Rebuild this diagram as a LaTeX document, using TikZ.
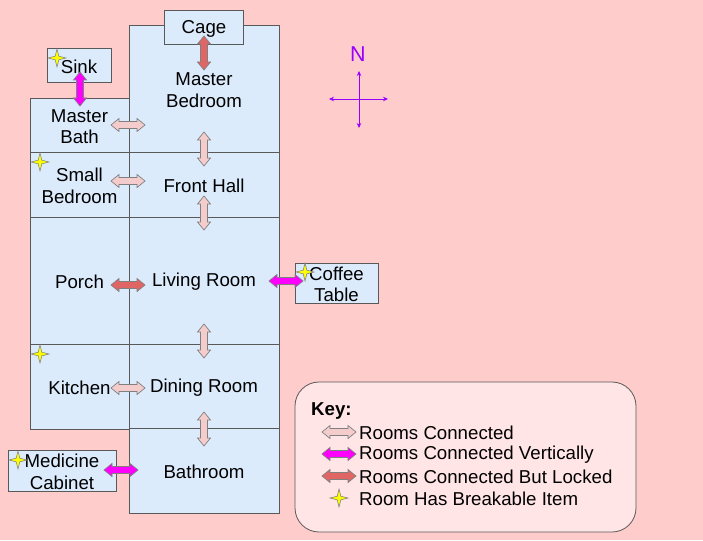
\documentclass[tikz,border=0pt]{standalone}
\usepackage{fontspec}
\setmainfont{Liberation Sans}
\usetikzlibrary{arrows.meta}
\definecolor{bgpink}{RGB}{255,204,204}
\definecolor{roomblue}{RGB}{220,235,252}
\definecolor{wallgray}{RGB}{89,89,89}
\definecolor{keyfill}{RGB}{255,229,229}
\definecolor{lockred}{RGB}{224,102,102}
\definecolor{connpink}{RGB}{244,204,204}
\definecolor{vertmag}{RGB}{255,0,255}
\definecolor{compass}{RGB}{153,0,255}
\definecolor{staryel}{RGB}{255,255,0}
\tikzset{
  room/.style={draw=wallgray, fill=roomblue, line width=0.9pt, inner sep=0pt},
  lbl/.style={inner sep=0pt, align=center, font=\fontsize{18.67}{21.5}\selectfont},
  conn/.style={draw=gray, fill=connpink, line width=0.7pt},
  vert/.style={draw=gray, fill=vertmag, line width=0.7pt},
  locked/.style={draw=gray, fill=lockred, line width=0.7pt},
  starsty/.style={draw=gray, fill=staryel, line width=0.6pt},
  comp/.style={draw=compass, line width=0.8pt, {Stealth[length=5pt,width=4.5pt]}-{Stealth[length=5pt,width=4.5pt]}}
}
\newcommand\darr[4]{%
  \draw[#1, shift={(#2,#3)}, rotate=#4] (-17,0) -- (-9,6.5) -- (-9,3.5) -- (9,3.5) -- (9,6.5) -- (17,0) -- (9,-6.5) -- (9,-3.5) -- (-9,-3.5) -- (-9,-6.5) -- cycle;}
\newcommand\fourstar[2]{%
  \draw[starsty, shift={(#1,#2)}] (0,-9) -- (1.8,-1.8) -- (9,0) -- (1.8,1.8) -- (0,9) -- (-1.8,1.8) -- (-9,0) -- (-1.8,-1.8) -- cycle;}
\begin{document}
\begin{tikzpicture}[x=1pt,y=-1pt]
\useasboundingbox (0,0) rectangle (703,540);
\fill[bgpink] (0,0) rectangle (703,540);

% rooms
\node[room, minimum width=150pt, minimum height=127pt] (mbed) at (204,88.5) {};
\node[room, minimum width=79pt, minimum height=34pt] (cage) at (204,27) {};
\node[room, minimum width=64pt, minimum height=34pt] (sink) at (79,65) {};
\node[room, minimum width=99pt, minimum height=54pt] (mbath) at (79.5,125) {};
\node[room, minimum width=99pt, minimum height=65pt] (sbed) at (79.5,184.5) {};
\node[room, minimum width=150pt, minimum height=65pt] (fhall) at (204,184.5) {};
\node[room, minimum width=99pt, minimum height=127pt] (porch) at (79.5,280.5) {};
\node[room, minimum width=150pt, minimum height=127pt] (living) at (204,280.5) {};
\node[room, minimum width=99pt, minimum height=85pt] (kitchen) at (79.5,386.5) {};
\node[room, minimum width=150pt, minimum height=84pt] (dining) at (204,386) {};
\node[room, minimum width=150pt, minimum height=85pt] (bathroom) at (204,470.5) {};
\node[room, minimum width=108pt, minimum height=41pt] (medcab) at (62,470.5) {};
\node[room, minimum width=83pt, minimum height=40pt] (coffee) at (336.5,283) {};

% room labels
\node[lbl] (mbedt) at ([yshift=-1.5pt]mbed.center) {Master\\Bedroom};
\node[lbl] (caget) at ([yshift=-1.5pt]cage.center) {Cage};
\node[lbl] (sinkt) at ([yshift=-1.5pt]sink.center) {Sink};
\node[lbl] (mbatht) at ([yshift=-1.5pt]mbath.center) {Master\\Bath};
\node[lbl] (sbedt) at ([yshift=-1.5pt]sbed.center) {Small\\Bedroom};
\node[lbl] (fhallt) at ([yshift=-1.5pt]fhall.center) {Front Hall};
\node[lbl] (porcht) at ([yshift=-1.5pt]porch.center) {Porch};
\node[lbl] (livingt) at ([yshift=-1.5pt]living.center) {Living Room};
\node[lbl] (kitchent) at ([yshift=-1.5pt]kitchen.center) {Kitchen};
\node[lbl] (diningt) at ([yshift=-1.5pt]dining.center) {Dining Room};
\node[lbl] (bathroomt) at ([yshift=-1.5pt]bathroom.center) {Bathroom};
\node[lbl] (medcabt) at ([yshift=-1.5pt]medcab.center) {Medicine\\Cabinet};
\node[lbl] (coffeet) at ([yshift=-1.5pt]coffee.center) {Coffee\\Table};

% breakable items
\fourstar{57}{58}
\fourstar{40}{162}
\fourstar{40}{354}
\fourstar{305}{272}
\fourstar{18}{460}

% connections
\darr{locked}{204}{53}{90}
\darr{vert}{80}{89}{90}
\darr{conn}{128}{125}{0}
\darr{conn}{204}{149}{90}
\darr{conn}{128}{181}{0}
\darr{conn}{204}{213}{90}
\darr{locked}{128}{285}{0}
\darr{vert}{286}{281}{0}
\darr{conn}{204}{341}{90}
\darr{conn}{128}{388}{0}
\darr{conn}{204}{429}{90}
\darr{vert}{121}{470}{0}

% compass
\node[lbl, text=compass, font=\fontsize{21.5}{24}\selectfont] (north) at (358,54) {N};
\coordinate (cn) at (359,71);
\coordinate (cs) at (359,128);
\coordinate (cw) at (329,99);
\coordinate (ce) at (388,99);
\draw[comp] (cn) -- (cs);
\draw[comp] (cw) -- (ce);

% key
\draw[draw=wallgray, fill=keyfill, line width=0.8pt, rounded corners=24pt] (295,382) rectangle (636,532);
\node[lbl, anchor=west, font=\fontsize{18.67}{21.5}\selectfont\bfseries] (keyt) at (311,411) {Key:};
\darr{conn}{339}{432}{0}
\darr{vert}{339}{454}{0}
\darr{locked}{339}{476}{0}
\fourstar{339}{498}
\node[lbl, anchor=west] (k1) at (359,432.5) {Rooms Connected};
\node[lbl, anchor=west] (k2) at (359,454.5) {Rooms Connected Vertically};
\node[lbl, anchor=west] (k3) at (359,476.5) {Rooms Connected But Locked};
\node[lbl, anchor=west] (k4) at (359,498.5) {Room Has Breakable Item};
\end{tikzpicture}
\end{document}
